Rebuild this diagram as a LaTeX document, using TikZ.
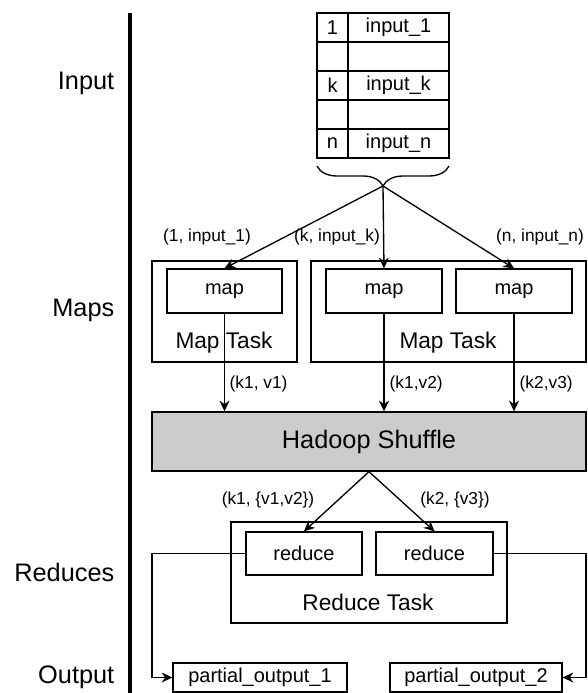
\documentclass[tikz,border=0pt]{standalone}
\usepackage{fontspec}
\setmainfont{Liberation Sans}
\usetikzlibrary{decorations.pathreplacing,arrows.meta,fit}
\begin{document}
\begin{tikzpicture}[x=0.75pt,y=-0.75pt,
  ln/.style={line width=1pt},
  box/.style={draw, line width=1pt, inner sep=0pt},
  cell/.style={box},
  bigtxt/.style={font=\fontsize{19}{22}\selectfont},
  midtxt/.style={font=\fontsize{17}{20}\selectfont},
  boxtxt/.style={font=\fontsize{15}{18}\selectfont},
  smalltxt/.style={font=\fontsize{13}{16}\selectfont},
  arr/.style={line width=1pt, -{Stealth[length=8pt,width=7.5pt]}}
]
\useasboundingbox (0,0) rectangle (587,693);

% axis line
\coordinate (axtop) at (130,13);
\coordinate (axbot) at (130,693);
\draw[line width=2.3pt] (axtop) -- (axbot);

% row labels
\node[bigtxt, anchor=east] (lInput) at (119,83) {Input};
\node[bigtxt, anchor=east] (lMaps) at (119,310) {Maps};
\node[bigtxt, anchor=east] (lReduces) at (119,572) {Reduces};
\node[bigtxt, anchor=east] (lOutput) at (119,677) {Output};

% input table
\node[cell, fit={(317,13) (348,42)}] (k1) {};
\node[cell, fit={(348,13) (449,42)}] (v1) {};
\node[cell, fit={(317,42) (348,71)}] (k2) {};
\node[cell, fit={(348,42) (449,71)}] (v2) {};
\node[cell, fit={(317,71) (348,100)}] (k3) {};
\node[cell, fit={(348,71) (449,100)}] (v3) {};
\node[cell, fit={(317,100) (348,129)}] (k4) {};
\node[cell, fit={(348,100) (449,129)}] (v4) {};
\node[cell, fit={(317,129) (348,158)}] (k5) {};
\node[cell, fit={(348,129) (449,158)}] (v5) {};
\node[boxtxt] (tk1) at (k1.center) {1};
\node[boxtxt] (tv1) at (v1.center) {input\_1};
\node[boxtxt] (tk3) at (k3.center) {k};
\node[boxtxt] (tv3) at (v3.center) {input\_k};
\node[boxtxt] (tk5) at (k5.center) {n};
\node[boxtxt] (tv5) at (v5.center) {input\_n};

% brace
\coordinate (brL) at (317,166);
\coordinate (brR) at (449,166);
\draw[ln, decorate, decoration={brace, mirror, amplitude=15pt}] (brL) -- (brR);
\coordinate (tip) at (383,186);

% map tasks
\node[box, fit={(152,261) (297,362)}] (mt1) {};
\node[box, fit={(311,261) (586,362)}] (mt2) {};
\node[midtxt] (mt1lab) at (224,343) {Map Task};
\node[midtxt] (mt2lab) at (448,343) {Map Task};
\node[box, fit={(167,269) (282,313)}] (map1) {};
\node[box, fit={(326,269) (442,313)}] (map2) {};
\node[box, fit={(456,269) (572,313)}] (map3) {};
\node[boxtxt] (map1t) at (map1.center) {map};
\node[boxtxt] (map2t) at (map2.center) {map};
\node[boxtxt] (map3t) at (map3.center) {map};

\draw[arr] (tip) -- (map1.north);
\draw[arr] (tip) -- (map2.north);
\draw[arr] (tip) -- (map3.north);
\node[smalltxt] (in1) at (207,237) {(1, input\_1)};
\node[smalltxt] (ink) at (337,237) {(k, input\_k)};
\node[smalltxt] (inn) at (540,237) {(n, input\_n)};

% shuffle
\node[box, fill={rgb,255:red,204;green,204;blue,204}, fit={(152,412) (586,471)}] (shuffle) {};
\node[bigtxt] (shufflet) at (shuffle.center) {Hadoop Shuffle};

\draw[arr] (map1.south) -- (map1.south |- shuffle.north);
\draw[arr] (map2.south) -- (map2.south |- shuffle.north);
\draw[arr] (map3.south) -- (map3.south |- shuffle.north);
\node[smalltxt, anchor=west] (kv1) at (225,384) {(k1, v1)};
\node[smalltxt, anchor=west] (kv2) at (385,384) {(k1,v2)};
\node[smalltxt, anchor=west] (kv3) at (515,384) {(k2,v3)};

% reduce
\node[box, fit={(231,522) (507,623)}] (rt) {};
\node[midtxt] (rtlab) at (368,602) {Reduce Task};
\node[box, fit={(246,532) (362,575)}] (r1) {};
\node[box, fit={(376,532) (493,575)}] (r2) {};
\node[boxtxt] (r1t) at (r1.center) {reduce};
\node[boxtxt] (r2t) at (r2.center) {reduce};

\draw[arr] (shuffle.south) -- (r1.north);
\draw[arr] (shuffle.south) -- (r2.north);
\node[smalltxt] (g1) at (268,500) {(k1, \{v1,v2\})};
\node[smalltxt] (g2) at (455,500) {(k2, \{v3\})};

% outputs
\node[box, fit={(173,663) (347,692)}] (po1) {};
\node[box, fit={(390,663) (562,692)}] (po2) {};
\node[boxtxt] (po1t) at (po1.center) {partial\_output\_1};
\node[boxtxt] (po2t) at (po2.center) {partial\_output\_2};
\coordinate (bendL) at (152,0);
\coordinate (bendR) at (586,0);
\draw[arr] (r1.west) -- (r1.west -| bendL) |- (po1.west);
\draw[arr] (r2.east) -- (r2.east -| bendR) |- (po2.east);
\end{tikzpicture}
\end{document}
